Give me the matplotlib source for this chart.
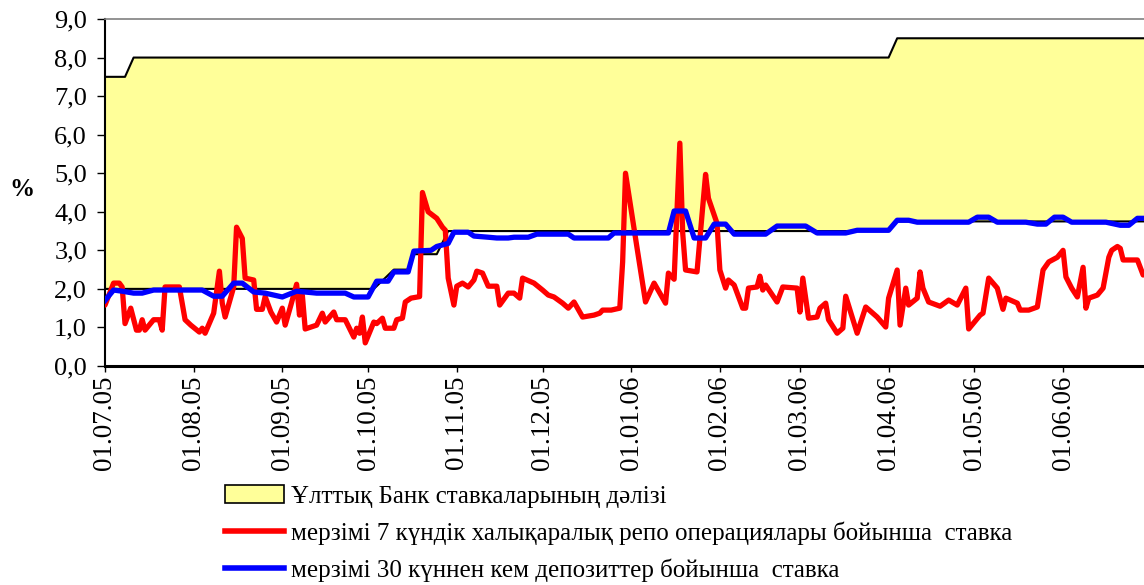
import numpy as np
import pandas as pd
import matplotlib
matplotlib.use('Agg')
import matplotlib.pyplot as plt
import matplotlib.dates as mdates
from matplotlib.lines import Line2D
from matplotlib.patches import Patch

plt.rcParams['font.family'] = ['Liberation Serif', 'DejaVu Serif']

start = pd.Timestamp('2005-07-01')

# corridor of National Bank rates (days from 01.07.05)
corr_days = [0, 7, 10, 94, 101, 106, 108, 116, 120, 274, 277, 364]
corr_low = [2.0, 2.0, 2.0, 2.0, 2.5, 2.5, 2.9, 2.9, 3.5, 3.5, 3.75, 3.75]
corr_high = [7.5, 7.5, 8.0, 8.0, 8.0, 8.0, 8.0, 8.0, 8.0, 8.0, 8.5, 8.5]

# 7-day repo rate
red_days = [0, 3, 5, 6, 7, 9, 11, 12, 13, 14, 17, 19, 20, 21, 26, 28, 30, 33, 34, 35,
            38, 40, 41, 42, 45, 46, 48, 49, 52, 53, 55, 56, 58, 60, 62, 63, 65, 67, 68, 69,
            70, 74, 76, 77, 80, 81, 84, 87, 88, 89, 90, 91, 94, 95, 97, 98, 101, 102, 104, 105,
            107, 110, 111, 113, 116, 118, 119, 120, 122, 123, 125, 127, 129, 130, 132, 134, 137, 138, 141, 143,
            145, 146, 150, 153, 155, 157, 160, 162, 164, 167, 171, 173, 174, 177, 180, 181, 182, 186, 189, 192,
            196, 197, 199, 201, 202, 203, 207, 210, 211, 214, 215, 217, 218, 220, 223, 224, 225, 228, 229, 230,
            231, 235, 237, 242, 243, 244, 246, 249, 250, 252, 253, 256, 258, 259, 263, 266, 270, 273, 274, 277,
            278, 280, 281, 284, 285, 286, 288, 292, 295, 298, 301, 302, 306, 307, 309, 312, 314, 315, 319, 320,
            323, 326, 328, 330, 333, 335, 336, 338, 340, 342, 343, 344, 347, 349, 351, 352, 354, 355, 356, 361,
            363]
red_vals = [1.58, 2.15, 2.15, 2.05, 1.1, 1.5, 0.93, 0.93, 1.2, 0.93, 1.2, 1.2, 0.93, 2.05, 2.05, 1.2, 1.06, 0.88, 0.98, 0.85,
            1.37, 2.46, 1.63, 1.27, 2.05, 3.6, 3.31, 2.28, 2.23, 1.47, 1.47, 1.8, 1.4, 1.14, 1.5, 1.06, 1.58, 2.12, 1.32, 1.84,
            0.96, 1.06, 1.37, 1.14, 1.4, 1.2, 1.2, 0.75, 0.98, 0.85, 1.27, 0.6, 1.14, 1.1, 1.24, 0.98, 0.98, 1.2, 1.24, 1.66,
            1.76, 1.8, 4.5, 4.0, 3.83, 3.6, 3.52, 2.28, 1.58, 2.07, 2.15, 2.05, 2.23, 2.46, 2.41, 2.07, 2.07, 1.58, 1.89, 1.89,
            1.76, 2.28, 2.15, 1.97, 1.84, 1.79, 1.63, 1.5, 1.66, 1.27, 1.32, 1.37, 1.45, 1.45, 1.5, 2.7, 5.0, 3.08, 1.66, 2.15,
            1.63, 2.41, 2.25, 5.78, 3.45, 2.49, 2.44, 4.97, 4.35, 3.7, 2.49, 2.02, 2.23, 2.1, 1.5, 1.5, 2.02, 2.05, 2.33, 1.97,
            2.1, 1.66, 2.05, 2.02, 1.4, 2.28, 1.24, 1.27, 1.5, 1.63, 1.2, 0.85, 0.98, 1.81, 0.85, 1.53, 1.27, 1.01, 1.76, 2.49,
            1.06, 2.02, 1.58, 1.76, 2.44, 2.02, 1.66, 1.55, 1.71, 1.58, 2.02, 0.96, 1.32, 1.37, 2.28, 2.02, 1.47, 1.76, 1.63, 1.45,
            1.45, 1.53, 2.49, 2.7, 2.82, 3.0, 2.31, 2.02, 1.79, 2.56, 1.5, 1.76, 1.84, 2.02, 2.82, 3.0, 3.1, 3.05, 2.75, 2.75,
            2.36]

# deposit rate up to 30 days
blue_days = [0, 3, 6, 10, 13, 17, 34, 38, 41, 45, 48, 52, 56, 62, 67, 74, 84, 87, 92, 95,
             99, 101, 106, 108, 114, 116, 120, 122, 127, 129, 134, 137, 141, 143, 148, 151, 162, 164, 176, 178,
             197, 199, 203, 206, 210, 213, 217, 220, 231, 235, 245, 249, 259, 263, 274, 277, 281, 284, 302, 305,
             309, 312, 322, 326, 329, 332, 335, 338, 350, 355, 358, 361, 364]
blue_vals = [1.7, 1.97, 1.94, 1.89, 1.89, 1.97, 1.97, 1.81, 1.81, 2.15, 2.15, 1.92, 1.89, 1.79, 1.94, 1.89, 1.89, 1.79, 1.79, 2.2,
             2.2, 2.44, 2.44, 2.98, 3.0, 3.1, 3.18, 3.47, 3.47, 3.37, 3.34, 3.32, 3.32, 3.34, 3.34, 3.42, 3.42, 3.32, 3.32, 3.45,
             3.45, 4.02, 4.02, 3.32, 3.32, 3.68, 3.68, 3.42, 3.42, 3.63, 3.63, 3.45, 3.45, 3.52, 3.52, 3.78, 3.78, 3.73, 3.73, 3.86,
             3.86, 3.73, 3.73, 3.68, 3.68, 3.86, 3.86, 3.73, 3.73, 3.65, 3.65, 3.83, 3.83]

labels = ['Ұлттық Банк ставкаларының дәлізі',
          'мерзімі 7 күндік халықаралық репо операциялары бойынша  ставка',
          'мерзімі 30 күннен кем депозиттер бойынша  ставка']


def to_dates(days):
    return start + pd.to_timedelta(days, unit='D')


fig = plt.figure(figsize=(11.44, 5.85), dpi=100)
ax = fig.add_axes([105 / 1144, 1 - 366 / 585, 1 - 105 / 1144, (366 - 19) / 585])

cd = to_dates(corr_days)
ax.fill_between(cd, corr_low, corr_high, color='#FFFF99', lw=0, zorder=1)
ax.plot(cd, corr_high, color='black', lw=1.5, zorder=2)
ax.plot(cd, corr_low, color='black', lw=1.5, zorder=2)
ax.plot(to_dates(red_days), red_vals, color='#FF0000', lw=3.8, zorder=3,
        solid_joinstyle='round', solid_capstyle='round')
ax.plot(to_dates(blue_days), blue_vals, color='#0000FF', lw=3.8, zorder=4,
        solid_joinstyle='round')

ax.set_xlim(start, start + pd.Timedelta(days=363.3))
ax.set_ylim(0, 9)
ax.set_yticks(np.arange(0, 10, 1))
ax.yaxis.set_major_formatter(plt.FuncFormatter(lambda v, p: f'{v:.1f}'.replace('.', ',')))
ax.xaxis.set_major_locator(mdates.MonthLocator(bymonthday=1))
ax.xaxis.set_major_formatter(mdates.DateFormatter('%d.%m.%y'))
ax.tick_params(axis='x', direction='out', length=4, width=1, pad=3, labelsize=19.5, labelrotation=90)
ax.tick_params(axis='y', direction='out', length=6, width=1, pad=7, labelsize=19)
for lab in ax.get_xticklabels():
    lab.set_va('top')
    lab.set_ha('center')

ax.spines['right'].set_visible(False)
ax.spines['top'].set_color('#808080')
ax.spines['top'].set_linewidth(1.2)
ax.spines['left'].set_linewidth(1.5)
ax.spines['bottom'].set_linewidth(2.2)

fig.text(22 / 1144, 1 - 190 / 585, '%', fontsize=18, fontweight='bold', ha='center', va='center')

handles = [Patch(facecolor='#FFFF99', edgecolor='black', lw=1.2),
           Line2D([], [], color='#FF0000', lw=4),
           Line2D([], [], color='#0000FF', lw=4)]
fig.legend(handles, labels, loc='upper left', bbox_to_anchor=(225 / 1144, 1 - 485 / 585),
           frameon=False, fontsize=18, handlelength=2.35, handleheight=0.7,
           handletextpad=0.3, labelspacing=0.55, borderaxespad=0, borderpad=0)

fig.savefig('out.png', dpi=100)
